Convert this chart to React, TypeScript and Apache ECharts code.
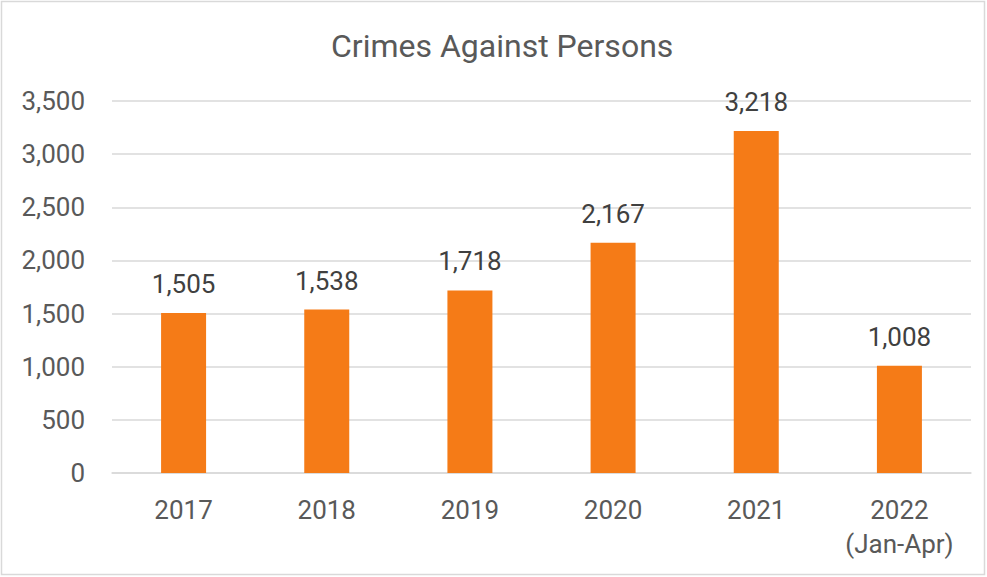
import React, { useEffect, useRef } from "react";
import * as echarts from "echarts";

const categories = ["2017", "2018", "2019", "2020", "2021", "2022\n(Jan-Apr)"];
const values = [1505, 1538, 1718, 2167, 3218, 1008];
const title = "Crimes Against Persons";

export default function App() {
  const ref = useRef<HTMLDivElement>(null);
  useEffect(() => {
    document.body.style.margin = "0";
    const chart = echarts.init(ref.current!, null, { renderer: "svg" });
    chart.setOption({
      animation: false,
      backgroundColor: "#ffffff",
      textStyle: { fontFamily: "Roboto" },
      title: {
        text: title,
        left: 326,
        top: 25,
        textStyle: { fontFamily: "Roboto", fontSize: 32, fontWeight: "normal", color: "#595959" },
      },
      graphic: [
        {
          type: "rect",
          shape: { x: 1.5, y: 1.5, width: 983, height: 573 },
          style: { fill: "none", stroke: "#d9d9d9", lineWidth: 1.5 },
          silent: true,
        },
      ],
      grid: { left: 112, right: 16, top: 101, bottom: 104, containLabel: false },
      xAxis: {
        type: "category",
        data: categories,
        axisLine: { lineStyle: { color: "#d9d9d9", width: 1.5 } },
        axisTick: { show: false },
        axisLabel: { color: "#595959", fontSize: 26, margin: 20, lineHeight: 34, fontFamily: "Roboto" },
      },
      yAxis: {
        type: "value",
        min: 0,
        max: 3500,
        interval: 500,
        axisLine: { show: false },
        axisTick: { show: false },
        splitLine: { lineStyle: { color: "#d9d9d9", width: 1.5 } },
        axisLabel: {
          color: "#595959",
          fontSize: 26,
          margin: 27,
          fontFamily: "Roboto",
          formatter: (v: number) => v.toLocaleString("en-US"),
        },
      },
      series: [
        {
          type: "bar",
          data: values,
          barWidth: 45,
          itemStyle: { color: "#F57B17" },
          label: {
            show: true,
            position: "top",
            distance: 16,
            color: "#404040",
            fontSize: 26,
            fontFamily: "Roboto",
            formatter: (p: any) => Number(p.value).toLocaleString("en-US"),
          },
        },
      ],
    });
    return () => chart.dispose();
  }, []);
  return <div ref={ref} style={{ width: 987, height: 577, position: "absolute", left: 0, top: 0 }} />;
}
